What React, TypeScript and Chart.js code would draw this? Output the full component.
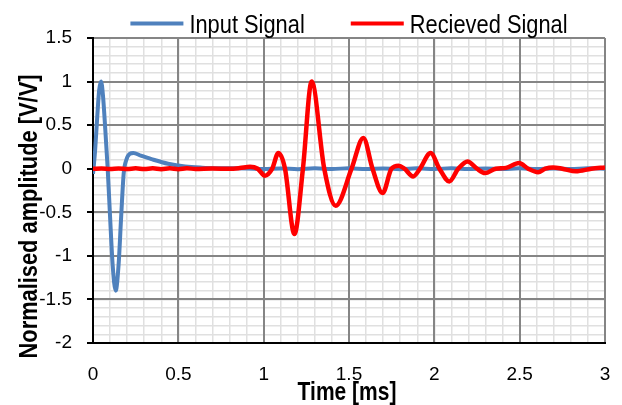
import React, { useEffect, useRef } from "react";
import { Chart, registerables } from "chart.js";

Chart.register(...registerables);

// ---------- data ----------
const seriesNames = ["Input Signal", "Recieved Signal"];
const seriesColors = ["#4F81BD", "#FF0000"];
const xTitle = "Time [ms]";
const yTitle = "Normalised amplitude [V/V]";
const xRange = [0, 3];
const yRange = [-2, 1.5];
const majorStep = 0.5;
const minorStep = 0.1;

const inputTime = [
  0, 0.012, 0.025, 0.036, 0.047, 0.058, 0.072, 0.086, 0.1, 0.115, 0.133, 0.15,
  0.165, 0.18, 0.195, 0.215, 0.236, 0.28, 0.343, 0.44, 0.54, 0.64, 0.75, 0.9,
  1.0, 1.1, 1.2, 1.3, 1.4, 1.5, 1.6, 1.7, 1.8, 1.9, 2.0, 2.1, 2.2, 2.3, 2.4,
  2.5, 2.6, 2.7, 2.8, 2.9, 3.0,
];
const inputAmp = [
  -0.06, 0.2, 0.6, 0.9, 1.0, 0.85, 0.45, 0.0, -0.55, -1.1, -1.4, -1.1, -0.55,
  -0.05, 0.1, 0.17, 0.18, 0.15, 0.11, 0.057, 0.025, 0.012, 0.006, 0.003,
  -0.004, 0.003, -0.005, 0.004, -0.003, 0.005, -0.004, 0.002, -0.005, 0.004,
  -0.003, 0.005, -0.004, 0.003, -0.002, 0.004, -0.004, 0.003, -0.003, 0.004,
  0.0,
];

const receivedTime = [
  0, 0.05, 0.1, 0.15, 0.2, 0.25, 0.3, 0.35, 0.4, 0.45, 0.5, 0.55, 0.6, 0.7,
  0.8, 0.86, 0.92, 0.965, 1.008, 1.05, 1.086, 1.125, 1.18, 1.23, 1.281, 1.355,
  1.422, 1.515, 1.584, 1.638, 1.697, 1.749, 1.791, 1.825, 1.876, 1.916, 1.978,
  2.03, 2.088, 2.14, 2.195, 2.25, 2.297, 2.36, 2.42, 2.497, 2.55, 2.608, 2.65,
  2.696, 2.75, 2.83, 2.92, 3.0,
];
const receivedAmp = [
  0, 0.002, -0.002, 0.003, -0.003, 0.004, -0.004, 0.005, -0.005, 0.005, -0.005,
  0.004, -0.002, 0.002, 0.0, 0.008, 0.022, 0.0, -0.08, 0.0, 0.18, 0.0, -0.75,
  0.0, 1.0, 0.0, -0.425, 0.0, 0.353, 0.0, -0.28, 0.0, 0.035, 0.0, -0.088, 0.0,
  0.18, 0.0, -0.146, 0.0, 0.084, 0.0, -0.05, 0.0, 0.01, 0.065, 0.0, -0.04, 0.0,
  0.015, 0.0, -0.03, 0.0, 0.015,
];

// ---------- style ----------
const SANS = '"Liberation Sans", Arial, sans-serif';
const MAJOR_GRID = "#858585";
const MINOR_GRID = "#e0e0e0";
const NARROW_X = 0.84; // horizontal squeeze to mimic a narrow face

const fmt = (v: number) => String(Math.round(v / majorStep) * majorStep);

function narrowText(
  ctx: CanvasRenderingContext2D,
  text: string,
  x: number,
  y: number,
  align: CanvasTextAlign
) {
  ctx.save();
  ctx.translate(x, y);
  ctx.scale(NARROW_X, 1);
  ctx.textAlign = align;
  ctx.fillText(text, 0, 0);
  ctx.restore();
}

const overlayPlugin = {
  id: "overlay",
  afterDraw(chart: any) {
    const { ctx, chartArea } = chart;
    const cx = (chartArea.left + chartArea.right) / 2;
    ctx.save();
    ctx.textBaseline = "alphabetic";
    // legend
    ctx.font = `26px ${SANS}`;
    const lineW = 53;
    const gapText = 6;
    const gapItem = 46;
    const widths = seriesNames.map((n) => ctx.measureText(n).width * NARROW_X);
    const total =
      widths.reduce((a, b) => a + b, 0) +
      seriesNames.length * (lineW + gapText) +
      (seriesNames.length - 1) * gapItem;
    let x = cx - total / 2;
    seriesNames.forEach((name, i) => {
      ctx.fillStyle = seriesColors[i];
      ctx.fillRect(x, 21.5, lineW, 4);
      x += lineW + gapText;
      ctx.fillStyle = "#000";
      narrowText(ctx, name, x, 33, "left");
      x += widths[i] + gapItem;
    });
    // axis titles
    ctx.font = `bold 25px ${SANS}`;
    ctx.fillStyle = "#000";
    narrowText(ctx, xTitle, cx - 2, 400, "center");
    ctx.font = `bold 26px ${SANS}`;
    ctx.translate(37, (chartArea.top + chartArea.bottom) / 2 + 26);
    ctx.rotate(-Math.PI / 2);
    narrowText(ctx, yTitle, 0, 0, "center");
    ctx.restore();
  },
};

export default function App() {
  const canvasRef = useRef<HTMLCanvasElement>(null);

  useEffect(() => {
    document.body.style.margin = "0";
    const canvas = canvasRef.current;
    if (!canvas) return;
    const tickFont = { family: SANS, size: 19 };
    const chart = new Chart(canvas, {
      type: "line",
      data: {
        datasets: [
          {
            label: seriesNames[0],
            data: inputTime.map((t, i) => ({ x: t, y: inputAmp[i] })),
            borderColor: seriesColors[0],
            backgroundColor: seriesColors[0],
            borderWidth: 4,
            pointRadius: 0,
            cubicInterpolationMode: "monotone",
            order: 1,
          },
          {
            label: seriesNames[1],
            data: receivedTime.map((t, i) => ({ x: t, y: receivedAmp[i] })),
            borderColor: seriesColors[1],
            backgroundColor: seriesColors[1],
            borderWidth: 4.5,
            pointRadius: 0,
            cubicInterpolationMode: "monotone",
            order: 0,
          },
        ],
      },
      options: {
        animation: false,
        responsive: false,
        maintainAspectRatio: false,
        layout: { padding: { top: 38, right: 17, left: 0, bottom: 0 } },
        plugins: {
          legend: { display: false },
          tooltip: { enabled: false },
        },
        scales: {
          xMinor: {
            type: "linear",
            position: "bottom",
            min: xRange[0],
            max: xRange[1],
            afterFit: (s: any) => {
              s.height = 0;
              s.paddingLeft = 0;
              s.paddingRight = 0;
            },
            ticks: { display: false, stepSize: minorStep, autoSkip: false },
            grid: { z: -2, drawTicks: false, color: MINOR_GRID, lineWidth: 1.5 },
            border: { display: false },
          },
          yMinor: {
            type: "linear",
            position: "left",
            min: yRange[0],
            max: yRange[1],
            afterFit: (s: any) => {
              s.width = 0;
            },
            ticks: { display: false, stepSize: minorStep, autoSkip: false },
            grid: { z: -2, drawTicks: false, color: MINOR_GRID, lineWidth: 1.5 },
            border: { display: false },
          },
          x: {
            type: "linear",
            position: "bottom",
            min: xRange[0],
            max: xRange[1],
            afterFit: (s: any) => {
              s.height = 62;
              s.paddingLeft = 0;
              s.paddingRight = 0;
            },
            ticks: {
              stepSize: majorStep,
              autoSkip: false,
              maxRotation: 0,
              minRotation: 0,
              padding: 20,
              color: "#000",
              font: tickFont,
              callback: (v: any) => fmt(Number(v)),
            },
            grid: { drawTicks: false, color: MAJOR_GRID, lineWidth: 2 },
            border: { display: true, color: "#000", width: 2 },
          },
          y: {
            type: "linear",
            position: "left",
            min: yRange[0],
            max: yRange[1],
            afterFit: (s: any) => {
              s.width = 93;
            },
            ticks: {
              stepSize: majorStep,
              autoSkip: false,
              padding: 15,
              color: "#000",
              font: tickFont,
              callback: (v: any) => fmt(Number(v)),
            },
            grid: {
              drawTicks: true,
              tickLength: 6,
              tickWidth: 2,
              tickColor: "#000",
              color: MAJOR_GRID,
              lineWidth: 2,
            },
            border: { display: true, color: "#000", width: 2 },
          },
        },
      },
      plugins: [overlayPlugin],
    });
    return () => chart.destroy();
  }, []);

  return (
    <div style={{ position: "relative", width: 622, height: 405 }}>
      <canvas ref={canvasRef} width={622} height={405} style={{ display: "block" }} />
    </div>
  );
}
